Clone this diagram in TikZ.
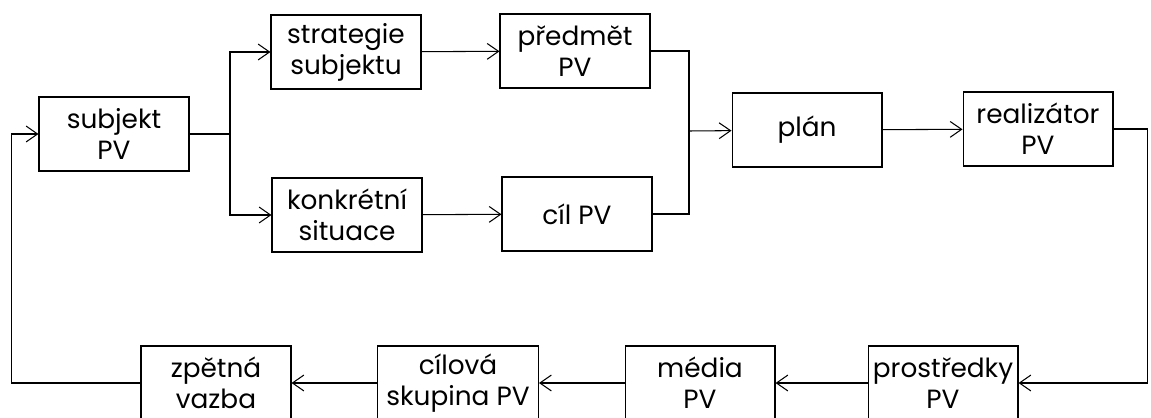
\documentclass[tikz,border=0pt]{standalone}
\usepackage{fontspec}
\setmainfont{Poppins}
\usetikzlibrary{arrows.meta}

\begin{document}
\begin{tikzpicture}[x=0.02cm, y=-0.02cm, line width=0.6pt,
  box/.style={draw, minimum width=3cm, minimum height=1.48cm, inner sep=1pt, align=center, font=\fontsize{15}{17.6}\selectfont},
  arr/.style={-{Straight Barb[length=6.5pt,width=9pt]}}]

\useasboundingbox (0,0) rectangle (1151,418);

% Draw boxes, upper part
\node[box] (subj) at (114,134) {subjekt\\PV};
\node[box] (strat) at (346,52) {strategie\\subjektu};
\node[box] (pred) at (575,51) {předmět\\PV};
\node[box] (sit) at (347,215) {konkrétní\\situace};
\node[box] (goal) at (577,214) {cíl PV};
\node[box] (plan) at (807,130) {plán};
\node[box] (real) at (1038,129) {realizátor\\PV};

% Draw boxes, lower part
\node[box] (fb) at (216,383) {zpětná\\vazba};
\node[box, minimum width=3.22cm] (group) at (458,383) {cílová\\skupina PV};
\node[box] (media) at (700,383) {média\\PV};
\node[box] (means) at (943,383) {prostředky\\PV};

% Split after the subject
\draw (subj.east) -- (230,134) coordinate (fork);
\draw[arr] (fork) |- (strat);
\draw[arr] (fork) |- (sit);

\draw[arr] (strat) -- (pred);
\draw[arr] (sit) -- (goal);

% Join into the plan
\coordinate (join) at (689,131);
\draw (pred) -| (join);
\draw (goal) -| (join);
\draw[arr] (join) -- (plan);
\draw[arr] (plan) -- (real);

% Go round to the lower row
\draw[arr] (real.east) -- ++(34,0) |- (means);
\draw[arr] (means) -- (media);
\draw[arr] (media) -- (group);
\draw[arr] (group) -- (fb);

% Feedback back to the subject
\draw[arr] (fb.west) -- ++(-129,0) |- (subj);

\end{tikzpicture}
\end{document}
